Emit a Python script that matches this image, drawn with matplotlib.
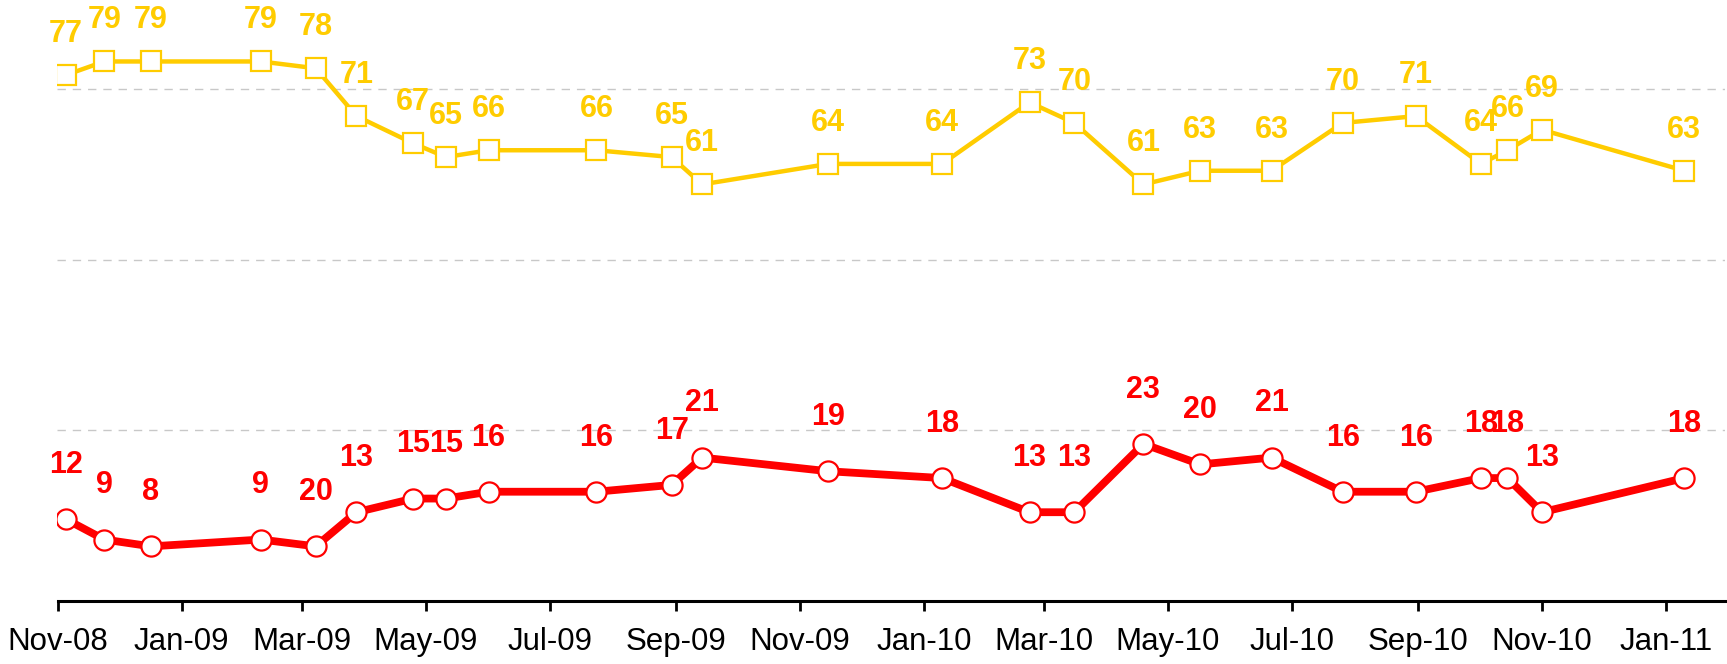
import matplotlib
matplotlib.use("Agg")
import matplotlib.pyplot as plt
import matplotlib.dates as mdates
from datetime import date

# survey dates
dates = [date(2008, 11, 5), date(2008, 11, 24), date(2008, 12, 17), date(2009, 2, 9),
         date(2009, 3, 8), date(2009, 3, 28), date(2009, 4, 25), date(2009, 5, 11),
         date(2009, 6, 1), date(2009, 7, 24), date(2009, 8, 30), date(2009, 9, 14),
         date(2009, 11, 15), date(2010, 1, 10), date(2010, 2, 22), date(2010, 3, 16),
         date(2010, 4, 19), date(2010, 5, 17), date(2010, 6, 21), date(2010, 7, 26),
         date(2010, 8, 31), date(2010, 10, 2), date(2010, 10, 15), date(2010, 11, 1),
         date(2011, 1, 10)]

yellow_values = [77, 79, 79, 79, 78, 71, 67, 65, 66, 66, 65, 61, 64, 64, 73, 70,
                 61, 63, 63, 70, 71, 64, 66, 69, 63]

red_values = [12, 9, 8, 9, 8, 13, 15, 15, 16, 16, 17, 21, 19, 18, 13, 13,
              23, 20, 21, 16, 16, 18, 18, 13, 18]
# the label printed on the chart (one differs from the plotted point)
red_labels = ["12", "9", "8", "9", "20", "13", "15", "15", "16", "16", "17", "21", "19",
              "18", "13", "13", "23", "20", "21", "16", "16", "18", "18", "13", "18"]

yellow = "#FFCC00"
red = "#FF0000"

plt.rcParams["font.family"] = ["Liberation Sans", "DejaVu Sans"]

fig = plt.figure(figsize=(17.27, 6.64), dpi=100)
ax = fig.add_axes([57.5 / 1727, 63 / 664, 1667.5 / 1727, 601 / 664])

for g in [25, 50, 75]:
    ax.axhline(g, color="#C8C8C8", linewidth=1, linestyle=(0, (6, 5)), zorder=1)

ax.plot(dates, yellow_values, color=yellow, linewidth=3.2, marker="s", markersize=15,
        markerfacecolor="white", markeredgecolor=yellow, markeredgewidth=1.6, zorder=3)
ax.plot(dates, red_values, color=red, linewidth=5.6, marker="o", markersize=14.5,
        markerfacecolor="white", markeredgecolor=red, markeredgewidth=1.6, zorder=3)

for d, v in zip(dates, yellow_values):
    ax.annotate(str(v), (d, v), xytext=(0, 29.5), textcoords="offset points",
                ha="center", va="center", fontsize=22, fontweight="bold", color=yellow)
for d, v, t in zip(dates, red_values, red_labels):
    ax.annotate(t, (d, v), xytext=(0, 39), textcoords="offset points",
                ha="center", va="center", fontsize=22, fontweight="bold", color=red)

ax.set_xlim(date(2008, 11, 1), date(2011, 1, 30))
ax.set_ylim(0, 88)

ax.xaxis.set_major_locator(mdates.MonthLocator(bymonth=[1, 3, 5, 7, 9, 11]))
ax.xaxis.set_major_formatter(mdates.DateFormatter("%b-%y"))
ax.tick_params(axis="x", direction="out", length=7.5, width=2, labelsize=22.5, pad=11)
ax.set_yticks([])

for s in ["left", "right", "top"]:
    ax.spines[s].set_visible(False)
ax.spines["bottom"].set_linewidth(2.2)

fig.savefig("out.png", dpi=100)
